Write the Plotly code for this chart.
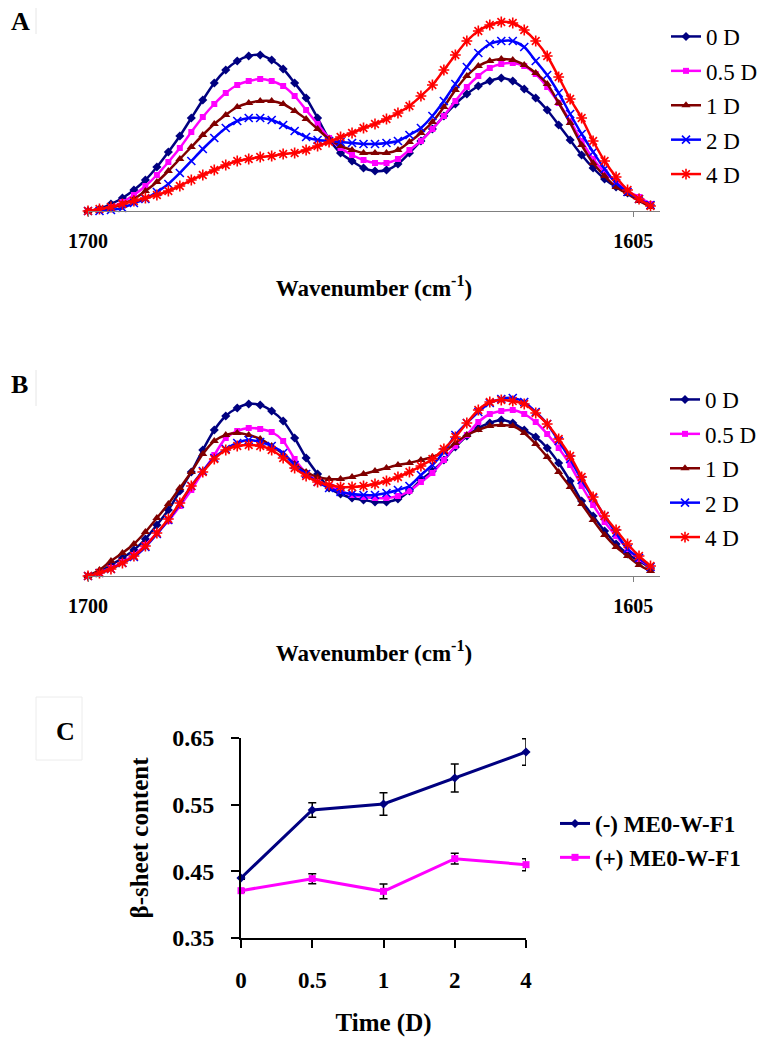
import plotly.graph_objects as go

# ---------------- data ----------------
wavenumber = [1700, 1698, 1696, 1694, 1692, 1690, 1688, 1686, 1684, 1682,
              1680, 1678, 1676, 1674, 1672, 1670, 1668, 1666, 1664, 1662,
              1660, 1658, 1656, 1654, 1652, 1650, 1648, 1646, 1644, 1642,
              1640, 1638, 1636, 1634, 1632, 1630, 1628, 1626, 1624, 1622,
              1620, 1618, 1616, 1614, 1612, 1610, 1608, 1606, 1604, 1602]

series_names = ["0 D", "0.5 D", "1 D", "2 D", "4 D"]

# Panel A (absorbance, arbitrary units)
A_0D = [0, 2, 7, 13, 21, 31, 44, 59, 75, 93,
        111, 128, 141, 150, 155, 156, 151, 142, 128, 113,
        93, 72, 58, 50, 43, 40, 41, 47, 58, 70,
        82, 95, 107, 117, 125, 130, 133, 130, 122, 113,
        101, 86, 71, 56, 43, 32, 24, 18, 13, 6]
A_05D = [0, 1, 4, 9, 16, 25, 36, 49, 63, 79,
         94, 107, 118, 126, 130, 132, 130, 125, 115, 101,
         87, 73, 63, 56, 51, 48, 48, 52, 61, 70,
         82, 95, 110, 124, 135, 143, 147, 148, 145, 137,
         124, 108, 90, 70, 52, 39, 29, 20, 14, 7]
A_1D = [0, 1, 3, 7, 12, 20, 29, 40, 52, 64,
        76, 87, 96, 104, 108, 110, 110, 107, 100, 92,
        82, 72, 65, 61, 58, 58, 58, 61, 69, 78,
        89, 104, 121, 135, 145, 150, 152, 151, 146, 138,
        127, 108, 88, 66, 48, 35, 24, 17, 10, 4]
A_2D = [0, 0, 1, 3, 8, 12, 19, 27, 38, 50,
        62, 73, 83, 90, 93, 93, 91, 86, 80, 74,
        71, 70, 69, 68, 67, 67, 68, 70, 76, 83,
        95, 110, 127, 144, 158, 167, 170, 170, 164, 150,
        136, 118, 97, 77, 59, 42, 28, 19, 12, 6]
A_4D = [0, 2, 4, 7, 10, 13, 16, 20, 25, 31,
        36, 41, 46, 50, 52, 54, 55, 57, 58, 61,
        65, 69, 74, 78, 83, 87, 92, 98, 105, 115,
        126, 141, 156, 170, 180, 186, 189, 188, 181, 170,
        155, 134, 112, 93, 70, 50, 34, 21, 12, 5]

# Panel B
B_0D = [0, 4, 11, 18, 26, 37, 51, 66, 85, 104,
        126, 146, 160, 168, 172, 171, 165, 155, 138, 118,
        102, 88, 82, 78, 76, 74, 74, 77, 85, 96,
        105, 116, 129, 140, 148, 153, 156, 153, 146, 139,
        128, 113, 95, 75, 60, 45, 32, 22, 15, 8]
B_05D = [0, 3, 8, 14, 21, 31, 43, 55, 70, 86,
         104, 121, 138, 145, 148, 147, 144, 135, 117, 103,
         95, 90, 85, 81, 79, 78, 78, 80, 85, 94,
         103, 116, 130, 141, 154, 162, 165, 166, 162, 154,
         142, 128, 111, 90, 71, 54, 40, 27, 17, 9]
B_1D = [0, 6, 15, 23, 32, 44, 58, 72, 88, 104,
        122, 135, 141, 143, 141, 137, 130, 122, 112, 104,
        99, 97, 97, 99, 102, 105, 108, 111, 113, 116,
        119, 124, 133, 141, 146, 150, 151, 150, 143, 132,
        119, 104, 89, 72, 56, 41, 29, 20, 11, 5]
B_2D = [0, 3, 7, 13, 19, 29, 42, 56, 72, 90,
        105, 118, 127, 133, 136, 134, 130, 123, 111, 102,
        94, 88, 84, 82, 81, 81, 83, 86, 90, 101,
        111, 124, 141, 153, 164, 173, 177, 178, 174, 164,
        152, 135, 117, 96, 78, 60, 43, 27, 18, 9]
B_4D = [0, 3, 7, 13, 20, 30, 43, 57, 73, 90,
        104, 117, 126, 130, 131, 130, 126, 118, 108, 100,
        94, 91, 89, 89, 90, 92, 95, 99, 104, 110,
        117, 127, 139, 153, 166, 174, 176, 175, 172, 163,
        152, 137, 120, 99, 79, 60, 46, 32, 20, 10]

x_ticks_ab = [1700, 1605]
x_ticktext_ab = ["1700", "1605"]

# Panel C
time_labels = ["0", "0.5", "1", "2", "4"]
minus_name = "(-) ME0-W-F1"
plus_name = "(+) ME0-W-F1"
minus_vals = [0.440, 0.542, 0.551, 0.590, 0.629]
minus_err = [0.002, 0.011, 0.017, 0.021, 0.020]
plus_vals = [0.421, 0.439, 0.420, 0.469, 0.460]
plus_err = [0.002, 0.0075, 0.011, 0.008, 0.009]
c_yticks = [0.35, 0.45, 0.55, 0.65]

# ---------------- styling ----------------
W, H = 768, 1041
OFF = 8  # default page (body) margin of the written html page
SERIF = "Liberation Serif, Times New Roman, Times, serif"
colors = ["#000080", "#FF00FF", "#800000", "#0000FF", "#FF0000"]
symbols = ["diamond", "square", "triangle-up", "x-thin-open", "asterisk-open"]
msizes = [7, 6, 8, 8, 9]


def fx(px):
    return (px - OFF) / W


def fy(py):
    return 1 - (py - OFF) / H


fig = go.Figure()

panels = [
    ("A", [A_0D, A_05D, A_1D, A_2D, A_4D], "x", "y", "legend"),
    ("B", [B_0D, B_05D, B_1D, B_2D, B_4D], "x2", "y2", "legend2"),
]
for tag, data, xa, ya, lg in panels:
    for name, vals, col, sym, ms in zip(series_names, data, colors, symbols, msizes):
        open_sym = sym.endswith("open")
        fig.add_trace(go.Scatter(
            x=wavenumber, y=vals, name=name, mode="lines+markers",
            xaxis=xa, yaxis=ya, legend=lg, legendgroup=tag + name,
            line=dict(color=col, width=2.5, shape="spline", smoothing=0.8),
            marker=dict(symbol=sym, size=ms, color=col,
                        line=dict(color=col, width=1.6 if open_sym else 0)),
            cliponaxis=False,
        ))

fig.add_trace(go.Scatter(
    x=time_labels, y=minus_vals, name=minus_name, mode="lines+markers",
    xaxis="x3", yaxis="y3", legend="legend3", legendgroup="cminus",
    line=dict(color="#000080", width=3),
    marker=dict(symbol="diamond", size=7, color="#000080"),
    error_y=dict(type="data", array=minus_err, color="black", thickness=1.5, width=4),
    cliponaxis=False,
))
fig.add_trace(go.Scatter(
    x=time_labels, y=plus_vals, name=plus_name, mode="lines+markers",
    xaxis="x3", yaxis="y3", legend="legend3", legendgroup="cplus",
    line=dict(color="#FF00FF", width=3),
    marker=dict(symbol="square", size=7, color="#FF00FF"),
    error_y=dict(type="data", array=plus_err, color="black", thickness=1.5, width=4),
    cliponaxis=False,
))

px_per_unit = 5.74
x_left, x_right = 88, 660
xrange_ab = [1700, 1700 - (x_right - x_left) / px_per_unit]

common_x = dict(
    range=xrange_ab, showline=True, linecolor="#808080", linewidth=1,
    ticks="outside", ticklen=5, tickcolor="#808080", tickwidth=1,
    tickvals=x_ticks_ab, ticktext=x_ticktext_ab,
    tickfont=dict(family=SERIF, size=20, color="black", weight="bold"),
    ticklabelstandoff=7, automargin=False,
    showgrid=False, zeroline=False,
    title=dict(text="Wavenumber (cm<sup>-1</sup>)", standoff=28,
               font=dict(family=SERIF, size=23, color="black", weight="bold")),
)
common_y = dict(range=[0, 201], visible=False, showgrid=False, zeroline=False)

legend_common = dict(
    font=dict(family=SERIF, size=23, color="black"),
    xanchor="left", yanchor="top", bgcolor="rgba(0,0,0,0)",
    tracegroupgap=1.5, itemclick=False,
)

fig.update_layout(
    width=W, height=H,
    margin=dict(l=0, r=0, t=0, b=0, pad=0, autoexpand=False),
    paper_bgcolor="white", plot_bgcolor="white",
    xaxis=dict(domain=[fx(x_left), fx(x_right)], anchor="y", **common_x),
    yaxis=dict(domain=[fy(211), fy(10)], anchor="x", **common_y),
    xaxis2=dict(domain=[fx(x_left), fx(x_right)], anchor="y2", **common_x),
    yaxis2=dict(domain=[fy(576), fy(375)], anchor="x2", **common_y),
    xaxis3=dict(
        domain=[fx(241), fx(526)], anchor="y3", type="category", range=[0, 4],
        showline=True, linecolor="black", linewidth=2,
        ticks="outside", ticklen=8, tickwidth=2, tickcolor="black",
        tickfont=dict(family=SERIF, size=23, color="black", weight="bold"),
        ticklabelstandoff=12, showgrid=False, zeroline=False, automargin=False,
        title=dict(text="Time (D)", standoff=22,
                   font=dict(family=SERIF, size=25, color="black", weight="bold")),
    ),
    yaxis3=dict(
        domain=[fy(938), fy(738)], anchor="x3", range=[0.35, 0.65],
        tickvals=c_yticks, tickformat=".2f",
        showline=True, linecolor="black", linewidth=2,
        ticks="outside", ticklen=8, tickwidth=2, tickcolor="black",
        tickfont=dict(family=SERIF, size=24, color="black", weight="bold"),
        ticklabelstandoff=12, showgrid=False, zeroline=False, automargin=False,
        title=dict(text="β-sheet content", standoff=16,
                   font=dict(family=SERIF, size=25, color="black", weight="bold")),
    ),
    legend=dict(x=fx(666), y=fy(15), **legend_common),
    legend2=dict(x=fx(665), y=fy(378), **legend_common),
    legend3=dict(x=fx(555), y=fy(802),
                 font=dict(family=SERIF, size=23, color="black", weight="bold"),
                 xanchor="left", yanchor="top", bgcolor="rgba(0,0,0,0)",
                 tracegroupgap=1, itemclick=False),
    showlegend=True,
)

# panel letters
for letter, px, py in [("A", 20, 22), ("B", 19, 384), ("C", 65, 731)]:
    fig.add_annotation(text=letter, x=fx(px), y=fy(py), xref="paper", yref="paper",
                       showarrow=False, xanchor="center", yanchor="middle",
                       font=dict(family=SERIF, size=26, color="black", weight="bold"))

# faint frame remnants around the panel letters
fig.add_shape(type="line", xref="paper", yref="paper",
              x0=fx(36), x1=fx(36), y0=fy(8), y1=fy(34),
              line=dict(color="#e6e6e6", width=1))
fig.add_shape(type="line", xref="paper", yref="paper",
              x0=fx(36), x1=fx(36), y0=fy(370), y1=fy(406),
              line=dict(color="#e6e6e6", width=1))
fig.add_shape(type="rect", xref="paper", yref="paper",
              x0=fx(36), x1=fx(82), y0=fy(697), y1=fy(760),
              line=dict(color="#ececec", width=1))

fig.write_html("out.html")
